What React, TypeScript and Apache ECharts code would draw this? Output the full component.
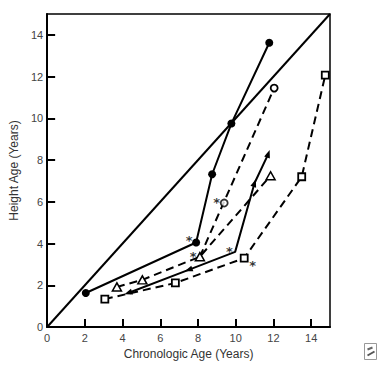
import React, { useEffect, useRef } from "react";
import * as echarts from "echarts";

const tickValues = [0, 2, 4, 6, 8, 10, 12, 14];
const identityLine = [[0, 0], [15, 15]];
const filledCircles = [[2.05, 1.63], [7.9, 4.05], [8.75, 7.32], [9.77, 9.75], [11.78, 13.62]];
const filledTriangles = [[4.3, 1.63], [7.5, 2.74], [9.97, 3.6], [11.0, 6.9], [11.73, 8.3]];
const filledTriangleRot = [110, 110, 0, -19, -19];
const filledTriangleShow = [true, true, false, true, true];
const openTriangles = [[3.7, 1.92], [5.05, 2.26], [8.1, 3.37], [11.85, 7.25]];
const openCircleLine = [[8.1, 3.37], [12.04, 11.45]];
const openCircleLone = [[9.39, 5.94]];
const squares = [[3.06, 1.34], [6.8, 2.11], [10.45, 3.3], [13.5, 7.2], [14.75, 12.07]];
const asterisks = [[7.53, 4.31], [8.99, 6.09], [7.74, 3.5], [9.66, 3.74], [10.9, 3.07]];

const INK = "#000";
const FONT = "Liberation Sans";

export default function App() {
  const ref = useRef<HTMLDivElement>(null);
  useEffect(() => {
    const chart = echarts.init(ref.current!, null, { renderer: "svg" });
    const solid = { color: INK, width: 2, type: "solid" as const };
    const dashed = { color: INK, width: 2, type: [8, 5] as any };
    chart.setOption({
      animation: false,
      backgroundColor: "#fff",
      grid: { left: 41, top: 14, right: 50, bottom: 41, show: true, borderColor: INK, borderWidth: 1.5, backgroundColor: "transparent" },
      xAxis: {
        type: "value", min: 0, max: 15,
        name: "Chronologic Age (Years)", nameLocation: "middle", nameGap: 17,
        nameTextStyle: { fontFamily: FONT, fontSize: 12, color: "#333" },
        axisLine: { show: true, lineStyle: { color: INK, width: 2 } },
        axisTick: { show: true, inside: true, length: 8, lineStyle: { color: INK, width: 2 }, customValues: tickValues },
        axisLabel: { fontFamily: FONT, fontSize: 11, color: "#444", margin: 5, customValues: tickValues },
        splitLine: { show: false },
      },
      yAxis: {
        type: "value", min: 0, max: 15,
        name: "Height Age (Years)", nameLocation: "middle", nameGap: 16,
        nameTextStyle: { fontFamily: FONT, fontSize: 12, color: "#333" },
        axisLine: { show: true, lineStyle: { color: INK, width: 2 } },
        axisTick: { show: true, inside: true, length: 8, lineStyle: { color: INK, width: 2 }, customValues: tickValues },
        axisLabel: { fontFamily: FONT, fontSize: 11, color: "#444", margin: 4, customValues: tickValues },
        splitLine: { show: false },
      },
      series: [
        { type: "line", data: identityLine, symbol: "none", lineStyle: solid, z: 2 },
        {
          type: "line", data: filledCircles, symbol: "circle", symbolSize: 8,
          itemStyle: { color: INK, borderWidth: 0 }, lineStyle: solid, z: 3,
        },
        {
          type: "line",
          data: filledTriangles.map((p, i) => ({
            value: p, symbol: filledTriangleShow[i] ? "triangle" : "none",
            symbolRotate: filledTriangleRot[i],
          })),
          symbolSize: [6, 8], itemStyle: { color: INK, borderWidth: 0 }, lineStyle: solid, z: 3,
        },
        {
          type: "line", data: openTriangles, symbol: "triangle", symbolSize: [9, 8],
          itemStyle: { color: "#fff", borderColor: INK, borderWidth: 1.5 }, lineStyle: dashed, z: 3,
        },
        {
          type: "line",
          data: openCircleLine.map((p, i) => ({ value: p, symbol: i === 0 ? "none" : "circle" })),
          symbolSize: 7, itemStyle: { color: "#fff", borderColor: INK, borderWidth: 1.8 }, lineStyle: dashed, z: 3,
        },
        {
          type: "scatter", data: openCircleLone, symbol: "circle", symbolSize: 7,
          itemStyle: { color: "#fff", borderColor: INK, borderWidth: 1.8 }, z: 4,
        },
        {
          type: "line", data: squares, symbol: "rect", symbolSize: 7,
          itemStyle: { color: "#fff", borderColor: INK, borderWidth: 1.8 }, lineStyle: dashed, z: 3,
        },
        {
          type: "scatter", data: asterisks, symbol: "circle", symbolSize: 1,
          itemStyle: { color: "rgba(0,0,0,0)", borderWidth: 0 }, z: 5,
          label: {
            show: true, position: "inside", formatter: "*", offset: [0, 3],
            fontFamily: "DejaVu Sans", fontSize: 13, fontWeight: "bold", color: "#000",
            textBorderWidth: 0, textBorderColor: "transparent",
          },
        },
      ],
      graphic: [
        {
          type: "group", left: 364, top: 343,
          children: [
            { type: "rect", shape: { x: 0, y: 0, width: 12, height: 16 }, style: { fill: "#fff", stroke: "#999", lineWidth: 1 } },
            { type: "line", shape: { x1: 3, y1: 6, x2: 8, y2: 4 }, style: { stroke: "#666", lineWidth: 2 } },
            { type: "line", shape: { x1: 3, y1: 12, x2: 10, y2: 8 }, style: { stroke: "#555", lineWidth: 2 } },
          ],
        },
      ],
    });
    return () => chart.dispose();
  }, []);
  return <div ref={ref} style={{ width: 380, height: 368, position: "absolute", left: 0, top: 0 }} />;
}
